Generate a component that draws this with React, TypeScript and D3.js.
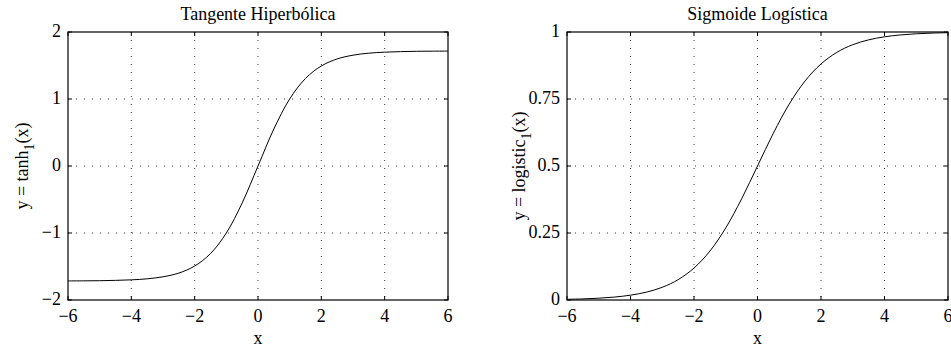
import React from "react";
import * as d3 from "d3";

const xs = [-6, -5.5, -5, -4.5, -4, -3.5, -3, -2.5, -2, -1.5, -1, -0.5, 0, 0.5, 1, 1.5, 2, 2.5, 3, 3.5, 4, 4.5, 5, 5.5, 6];
const tanhValues = [-1.715, -1.714, -1.712, -1.707, -1.699, -1.684, -1.654, -1.598, -1.493, -1.307, -1.0, -0.552, 0, 0.552, 1.0, 1.307, 1.493, 1.598, 1.654, 1.684, 1.699, 1.707, 1.712, 1.714, 1.715];
const logisticValues = [0.0025, 0.0041, 0.0067, 0.011, 0.018, 0.0293, 0.0474, 0.0759, 0.1192, 0.1824, 0.2689, 0.3775, 0.5, 0.6225, 0.7311, 0.8176, 0.8808, 0.9241, 0.9526, 0.9707, 0.982, 0.989, 0.9933, 0.9959, 0.9975];
const xTicks = [-6, -4, -2, 0, 2, 4, 6];
const tanhTicks = [-2, -1, 0, 1, 2];
const logisticTicks = [0, 0.25, 0.5, 0.75, 1];
const logisticTickLabels = ["0", "0.25", "0.5", "0.75", "1"];

const FONT = "'Liberation Serif', 'Times New Roman', serif";

type PanelProps = {
  left: number;
  right: number;
  top: number;
  bottom: number;
  title: string;
  yDomain: [number, number];
  yTicks: number[];
  yTickLabels: string[];
  values: number[];
  yLabelMain: string;
  yLabelX: number;
};

function fmt(v: number) {
  return v < 0 ? "\u2212" + Math.abs(v) : String(v);
}

function Panel(p: PanelProps) {
  const x = d3.scaleLinear().domain([-6, 6]).range([p.left, p.right]);
  const y = d3.scaleLinear().domain(p.yDomain).range([p.bottom, p.top]);
  const line = d3
    .line<number>()
    .x((_, i) => x(xs[i]))
    .y((d) => y(d))
    .curve(d3.curveCatmullRom.alpha(0.5));
  const tl = 4;
  const cx = (p.left + p.right) / 2;
  const cy = (p.top + p.bottom) / 2;
  return (
    <g>
      {xTicks.slice(1, -1).map((t) => (
        <line key={"gx" + t} x1={x(t)} x2={x(t)} y1={p.top} y2={p.bottom} stroke="#333" strokeWidth={1} strokeDasharray="1,7" />
      ))}
      {p.yTicks.slice(1, -1).map((t) => (
        <line key={"gy" + t} x1={p.left} x2={p.right} y1={y(t)} y2={y(t)} stroke="#333" strokeWidth={1} strokeDasharray="1,7" />
      ))}
      {xTicks.map((t) => (
        <g key={"tx" + t}>
          <line x1={x(t)} x2={x(t)} y1={p.bottom} y2={p.bottom - tl} stroke="#000" />
          <line x1={x(t)} x2={x(t)} y1={p.top} y2={p.top + tl} stroke="#000" />
          <text x={x(t)} y={p.bottom + 22} textAnchor="middle" fontFamily={FONT} fontSize={18} fill="#000">
            {fmt(t)}
          </text>
        </g>
      ))}
      {p.yTicks.map((t, i) => (
        <g key={"ty" + t}>
          <line x1={p.left} x2={p.left + tl} y1={y(t)} y2={y(t)} stroke="#000" />
          <line x1={p.right} x2={p.right - tl} y1={y(t)} y2={y(t)} stroke="#000" />
          <text x={p.left - 7} y={y(t) + 5} textAnchor="end" fontFamily={FONT} fontSize={18} fill="#000">
            {p.yTickLabels[i]}
          </text>
        </g>
      ))}
      <path d={line(p.values) || ""} fill="none" stroke="#000" strokeWidth={1} />
      <rect x={p.left} y={p.top} width={p.right - p.left} height={p.bottom - p.top} fill="none" stroke="#000" strokeWidth={1.2} />
      <text x={cx} y={20} textAnchor="middle" fontFamily={FONT} fontSize={18} fill="#000">
        {p.title}
      </text>
      <text x={cx} y={p.bottom + 44} textAnchor="middle" fontFamily={FONT} fontSize={18} fill="#000">
        x
      </text>
      <text
        transform={`translate(${p.yLabelX},${cy}) rotate(-90)`}
        textAnchor="middle"
        fontFamily={FONT}
        fontSize={18}
        fill="#000"
      >
        {p.yLabelMain}
        <tspan fontSize={14} dy={6}>1</tspan>
        <tspan dy={-6}>(x)</tspan>
      </text>
    </g>
  );
}

export default function App() {
  return (
    <svg width={951} height={351} style={{ position: "absolute", left: 0, top: 0, background: "#fff" }}>
      <rect width={951} height={351} fill="#fff" />
      <Panel
        left={68}
        right={448}
        top={32}
        bottom={300}
        title="Tangente Hiperbólica"
        yDomain={[-2, 2]}
        yTicks={tanhTicks}
        yTickLabels={tanhTicks.map(fmt)}
        values={tanhValues}
        yLabelMain="y = tanh"
        yLabelX={28}
      />
      <Panel
        left={567}
        right={948}
        top={32}
        bottom={300}
        title="Sigmoide Logística"
        yDomain={[0, 1]}
        yTicks={logisticTicks}
        yTickLabels={logisticTickLabels}
        values={logisticValues}
        yLabelMain="y = logistic"
        yLabelX={525}
      />
    </svg>
  );
}
